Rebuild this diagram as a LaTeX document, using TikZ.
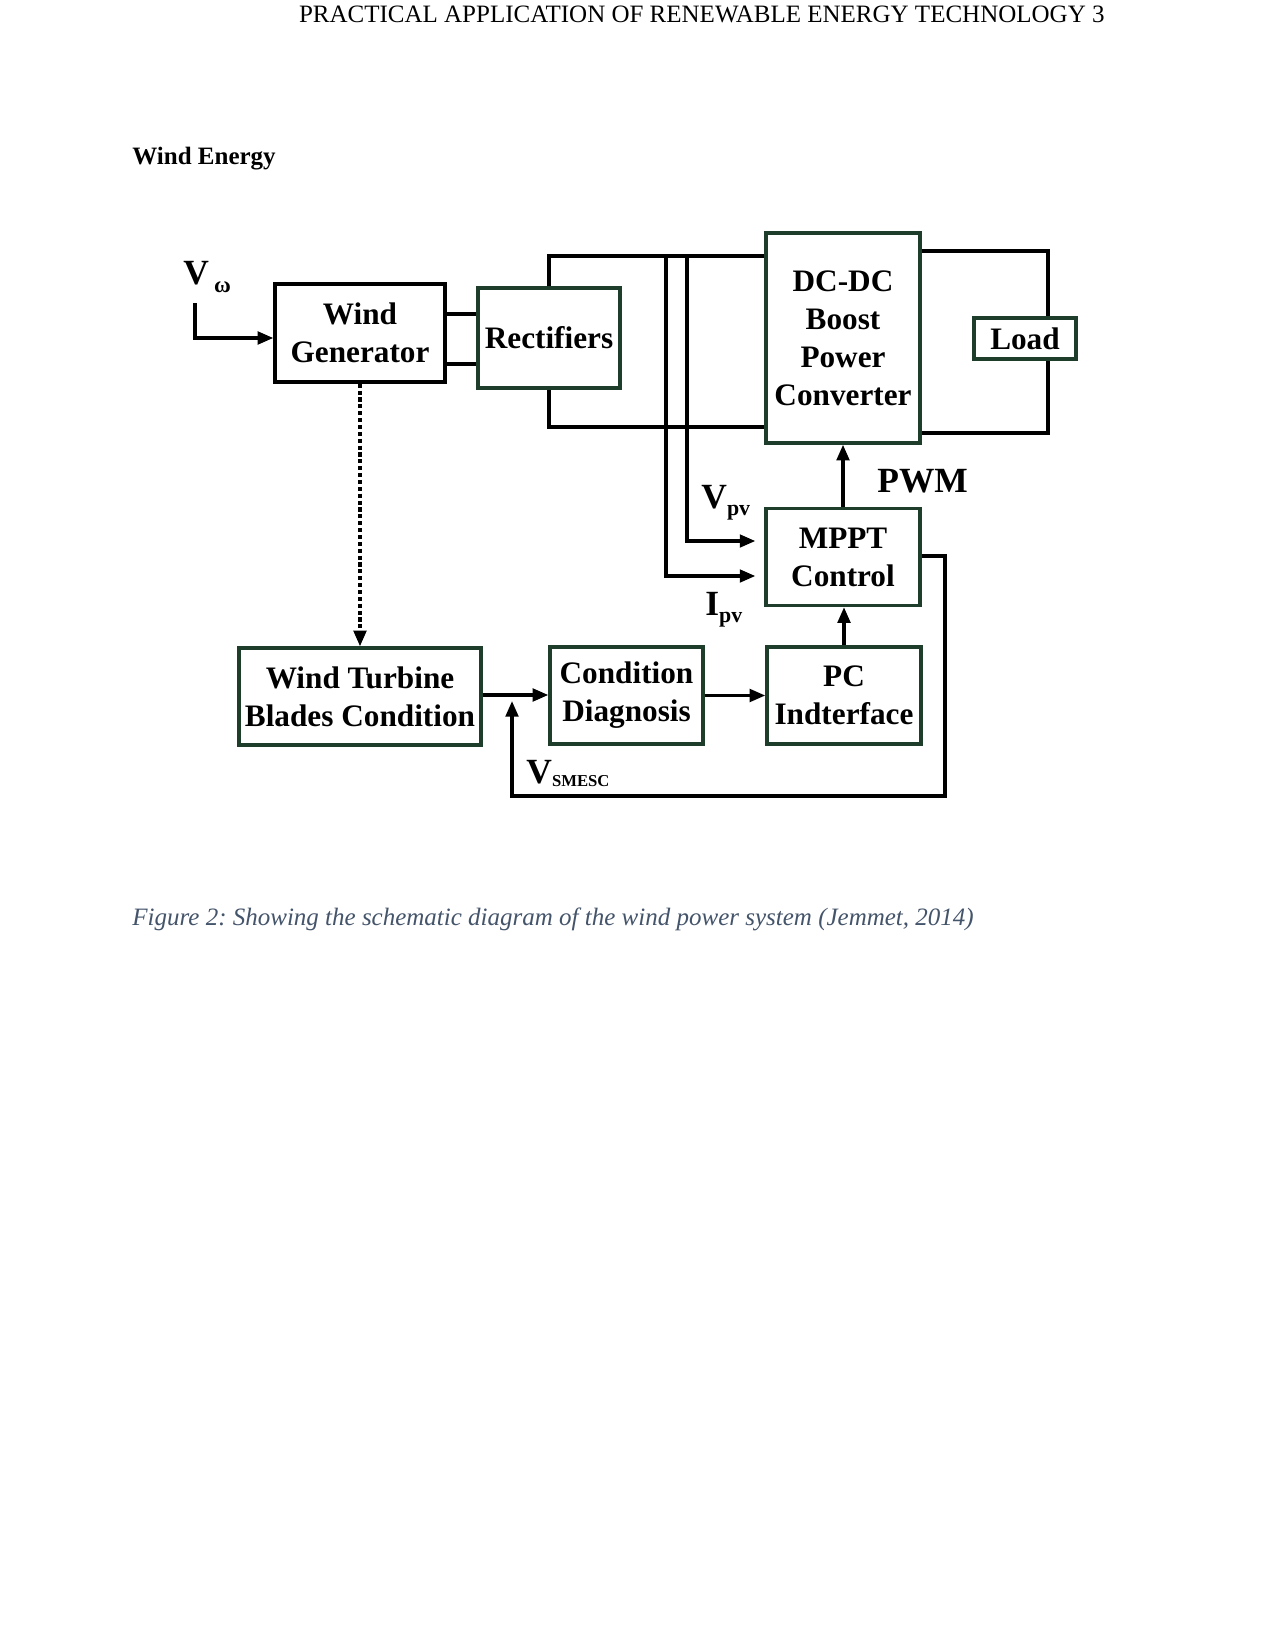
\documentclass[tikz,border=0pt]{standalone}
\usepackage{fontspec}
\setmainfont{Liberation Serif}
\usetikzlibrary{arrows.meta}
\definecolor{boxgreen}{HTML}{1E3D2A}
\definecolor{capgray}{HTML}{44546A}
\frenchspacing
\begin{document}
\begin{tikzpicture}[x=0.48pt,y=-0.48pt,
  wire/.style={line width=1.6pt,line join=miter},
  arr/.style={wire,-{Triangle[length=7.5pt,width=6pt]}},
  dotarr/.style={line width=1.6pt,dash pattern=on 2pt off 1.3pt,-{Triangle[length=7.5pt,width=6pt]}},
  blk/.style={draw=boxgreen,line width=1.6pt,fill=white,inner sep=0pt,align=center,
    font=\fontsize{15}{18.2}\selectfont\bfseries},
  lbl/.style={inner sep=0pt,anchor=base west,font=\bfseries}]
\useasboundingbox (0,0) rectangle (1275,1651);
\fill[white] (0,0) rectangle (1275,1651);

% page texts
\node[inner sep=0pt,anchor=base east,font=\fontsize{12}{14}\selectfont] (hdr) at (1105,23)
  {PRACTICAL APPLICATION OF RENEWABLE ENERGY TECHNOLOGY 3};
\node[inner sep=0pt,anchor=base west,font=\fontsize{12}{14}\selectfont\bfseries] (title) at (132,165)
  {Wind Energy};
\node[inner sep=0pt,anchor=base west,text=capgray,font=\fontsize{12}{14}\selectfont\itshape] (cap) at (132,925)
  {Figure 2: Showing the schematic diagram of the wind power system (Jemmet, 2014)};

% blocks
\node[blk,draw=black,minimum width=81.6pt,minimum height=47.04pt] (WG) at (360,333) {Wind\\Generator};
\node[blk,minimum width=68.16pt,minimum height=48pt] (RE) at (549,338) {Rectifiers};
\node[blk,minimum width=73.92pt,minimum height=100.8pt] (DC) at (843,338) {DC-DC\\Boost\\Power\\Converter};
\node[blk,minimum width=73.92pt,minimum height=46.56pt] (MP) at (843,557) {MPPT\\Control};
\node[blk,minimum width=116.16pt,minimum height=46.56pt] (WT) at (360,696.5) {Wind Turbine\\Blades Condition};
\node[blk,minimum width=73.44pt,minimum height=46.56pt] (CD) at (626.5,695.5) {Condition\\Diagnosis};
\node[blk,minimum width=73.92pt,minimum height=46.56pt] (PC) at (844,695.5) {PC\\Indterface};

% helper coordinates
\coordinate (vin) at (195,303);
\coordinate (y338) at (0,338);
\coordinate (y314) at (0,314);
\coordinate (y364) at (0,364);
\coordinate (ytop) at (0,256);
\coordinate (ybot) at (0,427);
\coordinate (ipv) at (666,256);
\coordinate (vpv) at (687,256);
\coordinate (y541) at (0,541);
\coordinate (y576) at (0,576);
\coordinate (y251) at (0,251);
\coordinate (loadc) at (1048,433);
\coordinate (y556) at (0,556);
\coordinate (cbot) at (945,796);
\coordinate (cj) at (512,701);
\coordinate (y695) at (0,695);

% connectors
\draw[arr] (vin) |- (WG.west |- y338);
\draw[wire] (WG.east |- y314) -- (RE.west |- y314);
\draw[wire] (WG.east |- y364) -- (RE.west |- y364);
\draw[wire] (RE.north) -- (RE.north |- ytop) -- (DC.west |- ytop);
\draw[wire] (RE.south) -- (RE.south |- ybot) -- (DC.west |- ybot);
\draw[arr,shorten >=4.3pt] (ipv) |- (MP.west |- y576);
\draw[arr,shorten >=4.3pt] (vpv) |- (MP.west |- y541);
\draw[wire] (DC.east |- y251) -| (loadc) -- (DC.east |- loadc);
\node[blk,minimum width=48.96pt,minimum height=19.68pt] (LD) at (1025,338.5) {Load};
\draw[arr] (MP.north) -- (DC.south);
\draw[arr] (MP.east |- y556) -| (cbot) -| (cj);
\draw[arr] (WT.east |- y695) -- (CD.west |- y695);
\draw[arr] (CD.east) -- (PC.west);
\draw[arr] (PC.north) -- (PC.north |- MP.south);
\draw[dotarr] (WG.south) -- (WG.south |- WT.north);

% labels
\node[lbl] (Vw) at (183,285) {\fontsize{17}{17}\selectfont V\kern2.5pt\raisebox{-3.4pt}{\fontsize{11}{11}\selectfont ω}};
\node[lbl] (Vpv) at (701,508) {\fontsize{17}{17}\selectfont V\raisebox{-3.4pt}{\fontsize{10.5}{10.5}\selectfont pv}};
\node[lbl] (Ipv) at (705,615) {\fontsize{17}{17}\selectfont I\raisebox{-3.4pt}{\fontsize{10.5}{10.5}\selectfont pv}};
\node[lbl] (PWM) at (877,492) {\fontsize{17}{17}\selectfont PWM};
\node[lbl] (Vs) at (526,783) {\fontsize{17}{17}\selectfont V\raisebox{-1.5pt}{\fontsize{8}{8}\selectfont SMESC}};
\end{tikzpicture}
\end{document}
